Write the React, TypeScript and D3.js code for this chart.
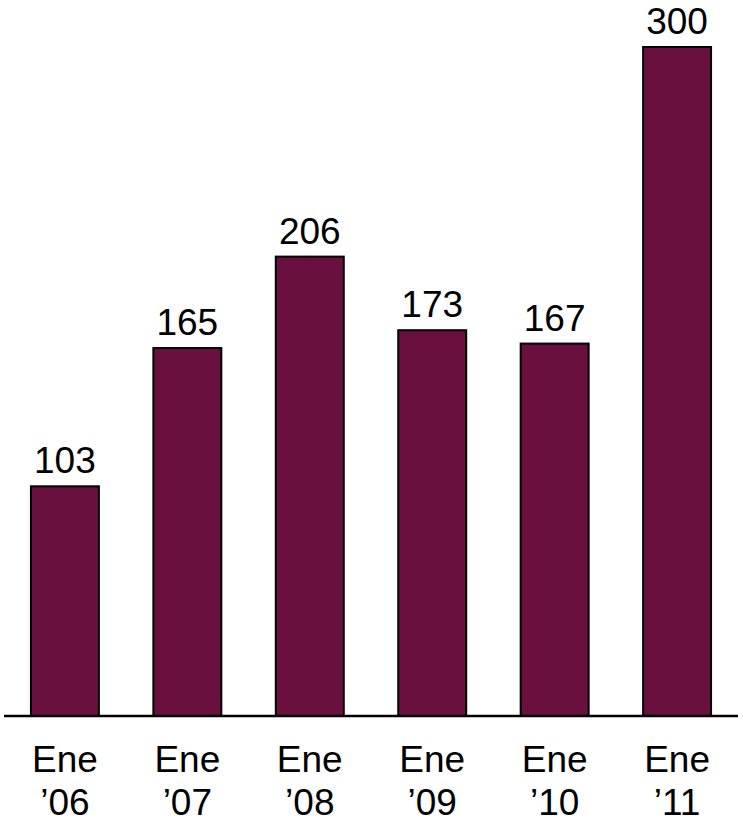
import React from "react";
import * as d3 from "d3";

const categories = ["Ene\n’06", "Ene\n’07", "Ene\n’08", "Ene\n’09", "Ene\n’10", "Ene\n’11"];
const values = [103, 165, 206, 173, 167, 300];

const W = 743;
const H = 822;

export default function App() {
  const x = d3.scaleBand<string>().domain(categories).range([4, 738]).paddingInner(0.445).paddingOuter(0.22);
  const y = d3.scaleLinear().domain([0, 300]).range([716, 47]);
  const font = "Arial, 'Liberation Sans', sans-serif";
  return (
    <svg width={W} height={H} style={{ position: "absolute", left: 0, top: 0 }}>
      {categories.map((c, i) => {
        const bx = x(c)!;
        const bw = x.bandwidth();
        const top = y(values[i]);
        const lines = c.split("\n");
        return (
          <g key={c}>
            <rect x={bx} y={top} width={bw} height={y(0) - top} fill="#69103F" stroke="#000" strokeWidth={2} />
            <text x={bx + bw / 2} y={top - 13} textAnchor="middle" fontFamily={font} fontSize={37} fill="#000">
              {values[i]}
            </text>
            {lines.map((l, j) => (
              <text key={j} x={bx + bw / 2} y={772 + j * 42.5} textAnchor="middle" fontFamily={font} fontSize={37} fill="#000">
                {l}
              </text>
            ))}
          </g>
        );
      })}
      <line x1={4} x2={738} y1={y(0)} y2={y(0)} stroke="#000" strokeWidth={2.5} />
    </svg>
  );
}
